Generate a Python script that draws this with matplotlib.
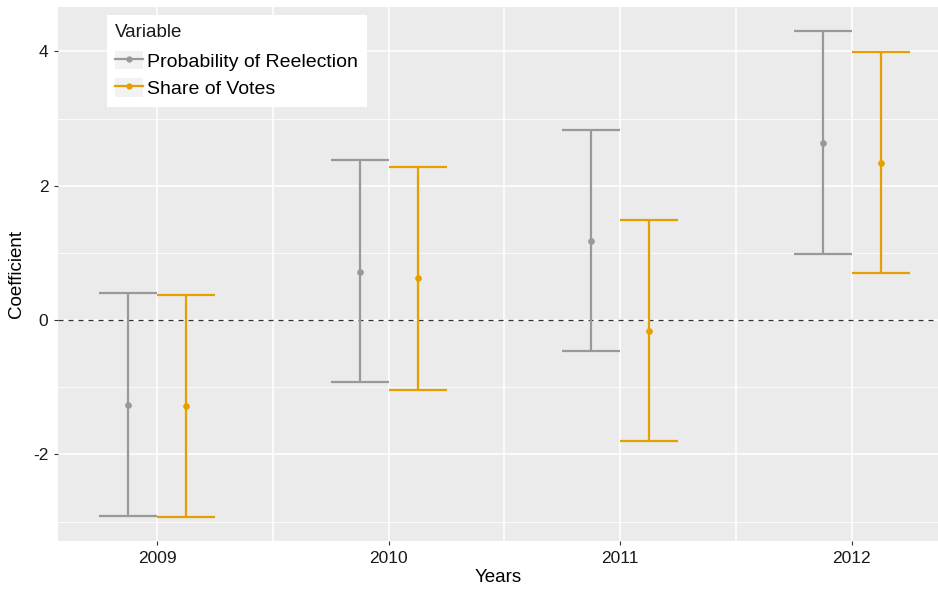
import numpy as np
import matplotlib.pyplot as plt
from matplotlib.lines import Line2D
from matplotlib.patches import Rectangle
from matplotlib.legend_handler import HandlerTuple

plt.rcParams['font.family'] = ['Liberation Sans', 'DejaVu Sans']
plt.rcParams['axes.unicode_minus'] = False

years = ['2009', '2010', '2011', '2012']
series = ['Probability of Reelection', 'Share of Votes']
colors = ['#999999', '#E69F00']

reel_est = [-1.26, 0.71, 1.18, 2.64]
reel_low = [-2.91, -0.92, -0.46, 0.99]
reel_high = [0.40, 2.38, 2.83, 4.30]

vote_est = [-1.28, 0.62, -0.16, 2.34]
vote_low = [-2.93, -1.04, -1.80, 0.70]
vote_high = [0.38, 2.28, 1.49, 3.99]

fig = plt.figure(figsize=(9.38, 5.9), dpi=100)
ax = fig.add_axes([0.062, 0.083, 0.938, 0.905])
ax.set_facecolor('#EBEBEB')
for s in ax.spines.values():
    s.set_visible(False)

x = np.arange(1, len(years) + 1)
data = [(reel_est, reel_low, reel_high), (vote_est, vote_low, vote_high)]
offsets = [-0.125, 0.125]

# grid
for v in [1.5, 2.5, 3.5]:
    ax.axvline(v, color='white', lw=1.1, zorder=0)
for v in x:
    ax.axvline(v, color='white', lw=1.1, zorder=0)
for v in [-3, -1, 1, 3]:
    ax.axhline(v, color='white', lw=0.6, zorder=0)
for v in [-2, 0, 2, 4]:
    ax.axhline(v, color='white', lw=1.1, zorder=0)

ax.axhline(0, color='#333333', lw=0.9, ls=(0, (4, 4)), zorder=1)

for (est, lo, hi), off, c in zip(data, offsets, colors):
    xs = x + off
    ax.errorbar(xs, est, yerr=[np.array(est) - np.array(lo), np.array(hi) - np.array(est)],
                fmt='none', ecolor=c, elinewidth=1.6, capsize=0, zorder=2)
    ax.hlines(lo, xs - 0.125, xs + 0.125, color=c, lw=1.6, zorder=2)
    ax.hlines(hi, xs - 0.125, xs + 0.125, color=c, lw=1.6, zorder=2)
    ax.plot(xs, est, 'o', color=c, ms=3.8, zorder=3)

ax.set_xlim(0.572, 4.373)
ax.set_ylim(-3.29, 4.66)
ax.set_xticks(x)
ax.set_xticklabels(years)
ax.set_yticks([-2, 0, 2, 4])
ax.tick_params(axis='both', labelsize=12.5, colors='#333333', length=3, width=0.8,
               labelcolor='#1a1a1a', pad=4)
ax.set_xlabel('Years', fontsize=13.5, labelpad=2)
ax.set_ylabel('Coefficient', fontsize=13.5, labelpad=6)

handles = []
for c in colors:
    bg = Rectangle((0, 0), 1, 1, facecolor='#F2F2F2', edgecolor='none')
    ln = Line2D([], [], color=c, lw=1.6, marker='o', ms=3.5)
    handles.append((bg, ln))
leg = ax.legend(handles, series, title='Variable', loc='upper left',
                bbox_to_anchor=(0.055, 0.985), frameon=True, fancybox=False,
                edgecolor='none', facecolor='white', framealpha=1,
                fontsize=14, title_fontsize=13.5, handlelength=1.4,
                handleheight=1.1, handletextpad=0.25, labelspacing=0.4,
                borderpad=0.45, borderaxespad=0,
                handler_map={tuple: HandlerTuple(ndivide=1, pad=0)})
leg._legend_box.align = 'left'
leg._legend_box.sep = 7
leg.get_title().set_color('#1a1a1a')

fig.savefig('out.png', dpi=100)
